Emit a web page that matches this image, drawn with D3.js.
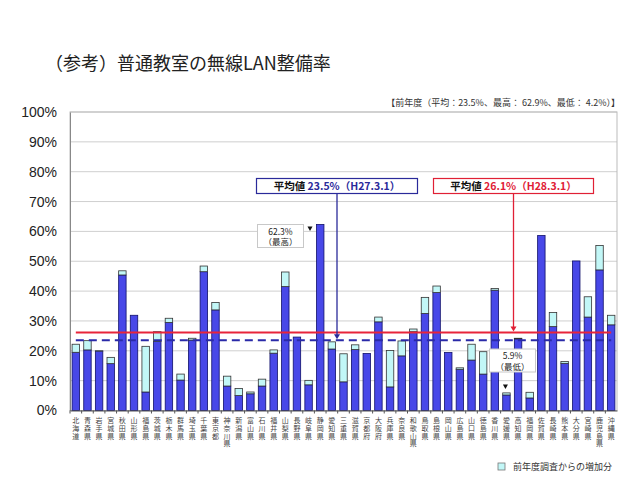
<!DOCTYPE html>
<html>
<head>
<meta charset="utf-8">
<script src="https://cdn.jsdelivr.net/npm/d3@7"></script>
<style>
  body { margin: 0; background: #fff; }
  svg { display: block; }
  .jp { font-family: "Noto Sans CJK JP", "Noto Sans", sans-serif; }
  .num { font-family: "Liberation Sans", Arial, sans-serif; }
</style>
</head>
<body>
<script>
// 都道府県
var prefs = ["北海道","青森県","岩手県","宮城県","秋田県","山形県","福島県","茨城県","栃木県","群馬県",
  "埼玉県","千葉県","東京都","神奈川県","新潟県","富山県","石川県","福井県","山梨県","長野県",
  "岐阜県","静岡県","愛知県","三重県","滋賀県","京都府","大阪府","兵庫県","奈良県","和歌山県",
  "鳥取県","島根県","岡山県","広島県","山口県","徳島県","香川県","愛媛県","高知県","福岡県",
  "佐賀県","長崎県","熊本県","大分県","宮崎県","鹿児島県","沖縄県"];
// H27.3.1 (前年度)
var prev = [19.5,20.3,19.9,15.7,45.4,31.9,6.2,23.1,29.5,10.2,
  23.6,46.5,33.7,8.2,5.0,5.6,8.2,19.2,41.5,24.6,
  8.6,62.9,20.6,9.6,20.4,19.1,29.7,7.9,18.3,26.4,
  32.5,39.5,19.4,13.8,16.9,12.2,40.3,5.2,24.0,4.2,
  58.6,28.1,15.8,50.1,31.3,47.1,28.7];
// H28.3.1
var curr = [22.2,23.4,20.0,17.8,46.8,31.9,21.5,26.4,30.9,12.2,
  24.2,48.4,36.2,11.5,7.4,6.2,10.5,20.3,46.4,24.6,
  10.1,62.3,23.0,19.0,22.0,19.1,31.3,20.1,23.3,27.3,
  37.9,41.7,19.4,14.3,22.2,19.7,40.9,5.9,24.2,6.1,
  58.6,32.8,16.4,50.1,38.1,55.3,31.9];
var yTicks = [0,10,20,30,40,50,60,70,80,90,100];
var avgPrev = 23.5, avgCurr = 26.1;

var width = 640, height = 483;
var pLeft = 70, pRight = 617, pTop = 112, pBottom = 410.5;

var svg = d3.select("body").append("svg")
    .attr("width", width)
    .attr("height", height);

var x = d3.scaleBand().domain(prefs).range([pLeft, pRight])
    .paddingInner(0.36).paddingOuter(0.18);
var y = d3.scaleLinear().domain([0, 100]).range([pBottom, pTop]);

// title
svg.append("text").attr("class", "jp")
    .attr("x", 45).attr("y", 70)
    .attr("font-size", 18).attr("fill", "#222")
    .text("（参考）普通教室の無線LAN整備率");

svg.append("text").attr("class", "jp")
    .attr("x", 620).attr("y", 106)
    .attr("text-anchor", "end")
    .attr("font-size", 9).attr("fill", "#333")
    .text("【前年度（平均：23.5%、最高： 62.9%、最低： 4.2%）】");

// grid
svg.append("g").selectAll("line").data(yTicks).enter().append("line")
    .attr("x1", pLeft).attr("x2", pRight)
    .attr("y1", d => y(d)).attr("y2", d => y(d))
    .attr("stroke", "#cfcfcf").attr("stroke-width", 1);

svg.append("rect")
    .attr("x", pLeft).attr("y", pTop)
    .attr("width", pRight - pLeft).attr("height", pBottom - pTop)
    .attr("fill", "none").attr("stroke", "#bbb");

// y axis
var yAxis = d3.axisLeft(y).tickValues(yTicks).tickSize(0).tickPadding(13)
    .tickFormat(d => d + "%");
var gy = svg.append("g").attr("transform", "translate(" + pLeft + ",0)").call(yAxis);
gy.select(".domain").attr("stroke", "#888");
gy.selectAll("text").attr("class", "num").attr("font-size", 14).attr("fill", "#222");

// bars
var bars = svg.append("g").selectAll("g").data(prefs).enter().append("g");
bars.append("rect")
    .attr("x", d => x(d)).attr("width", x.bandwidth())
    .attr("y", (d, i) => y(Math.min(prev[i], curr[i])))
    .attr("height", (d, i) => y(0) - y(Math.min(prev[i], curr[i])))
    .attr("fill", "#4848E8").attr("stroke", "#10106a").attr("stroke-width", 0.8);
bars.filter((d, i) => curr[i] > prev[i]).append("rect")
    .attr("x", d => x(d)).attr("width", x.bandwidth())
    .attr("y", d => y(curr[prefs.indexOf(d)]))
    .attr("height", d => { var i = prefs.indexOf(d); return y(prev[i]) - y(curr[i]); })
    .attr("fill", "#C2F7F7").attr("stroke", "#333").attr("stroke-width", 0.8);

// x axis
var xAxis = d3.axisBottom(x).tickSize(0).tickFormat("");
var gx = svg.append("g").attr("transform", "translate(0," + pBottom + ")").call(xAxis);
gx.select(".domain").attr("stroke", "#555");
svg.append("g").selectAll("line").data(prefs).enter().append("line")
    .attr("x1", d => x(d) - x.step() * x.paddingInner() / 2)
    .attr("x2", d => x(d) - x.step() * x.paddingInner() / 2)
    .attr("y1", pBottom).attr("y2", pBottom + 3)
    .attr("stroke", "#555");

// vertical labels, one character per line
var labs = svg.append("g").selectAll("g").data(prefs).enter().append("g")
    .attr("transform", d => "translate(" + (x(d) + x.bandwidth() / 2) + ",0)");
labs.selectAll("text").data(d => Array.from(d)).enter().append("text")
    .attr("class", "jp")
    .attr("x", 0)
    .attr("y", (c, i) => 423 + i * 7.8)
    .attr("font-size", 7).attr("fill", "#444")
    .attr("text-anchor", "middle")
    .text(c => c);

// average lines
var x0 = x(prefs[0]) + x.bandwidth() / 2, x1 = x(prefs[prefs.length - 1]) + x.bandwidth() / 2;
svg.append("line")
    .attr("x1", x0).attr("x2", x1).attr("y1", y(avgPrev)).attr("y2", y(avgPrev))
    .attr("stroke", "#2a2aa8").attr("stroke-width", 2).attr("stroke-dasharray", "8,5");
svg.append("line")
    .attr("x1", x0).attr("x2", x1).attr("y1", y(avgCurr)).attr("y2", y(avgCurr))
    .attr("stroke", "#e8243a").attr("stroke-width", 2);

// average callouts
function callout(bx, bw, val, label, col) {
    var cx = bx + bw / 2;
    svg.append("line")
        .attr("x1", cx).attr("x2", cx).attr("y1", 193.5).attr("y2", y(val) - 4)
        .attr("stroke", col).attr("stroke-width", 1.3);
    svg.append("path")
        .attr("d", "M" + (cx - 3) + "," + (y(val) - 6) + "L" + (cx + 3) + "," + (y(val) - 6) + "L" + cx + "," + (y(val) - 1) + "Z")
        .attr("fill", col);
    svg.append("rect")
        .attr("x", bx).attr("y", 178.5).attr("width", bw).attr("height", 15)
        .attr("fill", "#fff").attr("stroke", col).attr("stroke-width", 1.2);
    var t = svg.append("text").attr("class", "jp")
        .attr("x", cx).attr("y", 190).attr("text-anchor", "middle")
        .attr("font-size", 10.5).attr("font-weight", "bold");
    t.append("tspan").attr("fill", "#111").text("平均値  ");
    t.append("tspan").attr("fill", col).text(label);
}
callout(256.5, 161, avgPrev, "23.5%（H27.3.1）", "#2a2a9a");
callout(433.5, 160, avgCurr, "26.1%（H28.3.1）", "#e02035");

// max / min labels
function note(bx, by, l1, l2, tx, ty) {
    svg.append("rect")
        .attr("x", bx).attr("y", by).attr("width", 46).attr("height", 23)
        .attr("fill", "#fff").attr("stroke", "#c8c8c8");
    svg.append("text").attr("class", "jp").attr("x", bx + 23).attr("y", by + 10)
        .attr("text-anchor", "middle").attr("font-size", 8.5).attr("fill", "#222").text(l1);
    svg.append("text").attr("class", "jp").attr("x", bx + 23).attr("y", by + 20.5)
        .attr("text-anchor", "middle").attr("font-size", 8.5).attr("fill", "#222").text(l2);
    svg.append("path")
        .attr("d", "M" + (tx - 2.5) + "," + (ty - 2.5) + "L" + (tx + 2.5) + "," + (ty - 2.5) + "L" + tx + "," + (ty + 2) + "Z")
        .attr("fill", "#111");
}
note(257.5, 224.5, "62.3%", "（最高）", 310, 229);
note(489.5, 349, "5.9%", "（最低）", x("愛媛県") + x.bandwidth() / 2 - 1, 387);

// legend
svg.append("rect")
    .attr("x", 498).attr("y", 463).attr("width", 7).attr("height", 7)
    .attr("fill", "#C2F7F7").attr("stroke", "#777").attr("stroke-width", 0.8);
svg.append("text").attr("class", "jp")
    .attr("x", 513).attr("y", 470)
    .attr("font-size", 9).attr("fill", "#333")
    .text("前年度調査からの増加分");
</script>
</body>
</html>
